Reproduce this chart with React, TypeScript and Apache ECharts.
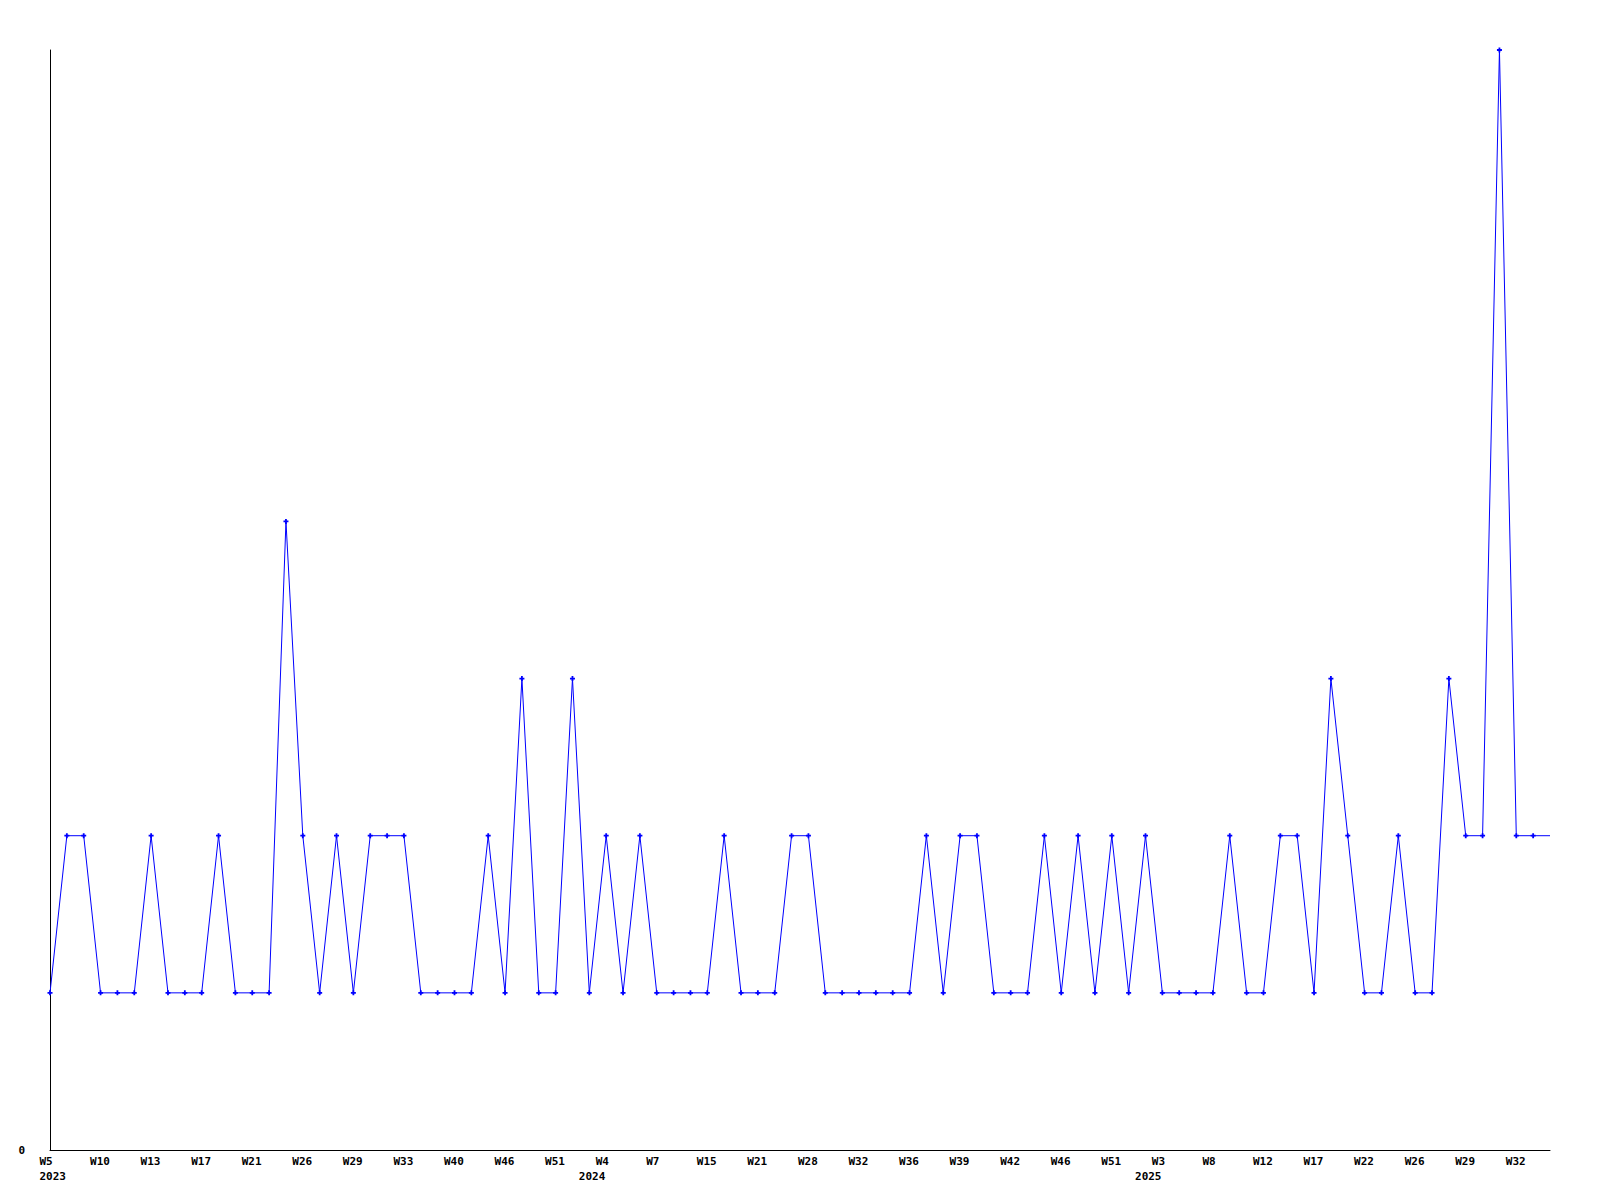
import React, { useEffect, useRef } from "react";
import * as echarts from "echarts";

// Tick labels shown under every third point
const weekTicks = [
  "W5", "W10", "W13", "W17", "W21", "W26", "W29", "W33", "W40", "W46",
  "W51", "W4", "W7", "W15", "W21", "W28", "W32", "W36", "W39", "W42",
  "W46", "W51", "W3", "W8", "W12", "W17", "W22", "W26", "W29", "W32",
];

// Year labels: [point index, year]
const yearTicks: [number, string][] = [
  [0, "2023"],
  [32, "2024"],
  [65, "2025"],
];

// Series values, one per point
const values = [
  1, 2, 2, 1, 1, 1, 2, 1, 1, 1,
  2, 1, 1, 1, 4, 2, 1, 2, 1, 2,
  2, 2, 1, 1, 1, 1, 2, 1, 3, 1,
  1, 3, 1, 2, 1, 2, 1, 1, 1, 1,
  2, 1, 1, 1, 2, 2, 1, 1, 1, 1,
  1, 1, 2, 1, 2, 2, 1, 1, 1, 2,
  1, 2, 1, 2, 1, 2, 1, 1, 1, 1,
  2, 1, 1, 2, 2, 1, 3, 2, 1, 1,
  2, 1, 1, 3, 2, 2, 7, 2, 2, 2,
];

const TICK_STEP = 3;

export default function App() {
  const ref = useRef<HTMLDivElement>(null);

  useEffect(() => {
    if (!ref.current) return;
    const chart = echarts.init(ref.current, undefined, { renderer: "svg" });

    const weekCats = values.map((_, i) =>
      i % TICK_STEP === 0 ? weekTicks[i / TICK_STEP] ?? "" : ""
    );
    const yearCats = values.map(() => "");
    yearTicks.forEach(([i, y]) => (yearCats[i] = y));

    const font = {
      fontFamily: "DejaVu Sans Mono",
      fontWeight: "bold" as const,
      fontSize: 11,
      color: "#000",
    };
    const rich = { w: { ...font, width: 21, align: "left" as const } };

    const plus =
      "path://M1.6,0L3.4,0L3.4,1.6L5,1.6L5,3.4L3.4,3.4L3.4,5L1.6,5L1.6,3.4L0,3.4L0,1.6L1.6,1.6Z";

    chart.setOption({
      animation: false,
      backgroundColor: "#fff",
      grid: { left: 50, right: 50, top: 50, bottom: 50, containLabel: false },
      xAxis: [
        {
          type: "category",
          data: weekCats,
          boundaryGap: false,
          position: "bottom",
          axisLine: { show: true, lineStyle: { color: "#000", width: 1 } },
          axisTick: { show: false },
          splitLine: { show: false },
          axisLabel: {
            interval: 0,
            margin: 6,
            align: "center",
            ...font,
            formatter: (v: string) => (v ? `{w|${v}}` : ""),
            rich,
          },
        },
        {
          type: "category",
          data: yearCats,
          boundaryGap: false,
          position: "bottom",
          offset: 15,
          axisLine: { show: false },
          axisTick: { show: false },
          splitLine: { show: false },
          axisLabel: {
            interval: 0,
            margin: 6,
            align: "center",
            ...font,
            formatter: (v: string) => (v ? `{w|${v}}` : ""),
            rich: { w: { ...font, width: 21, align: "left" as const } },
          },
        },
      ],
      yAxis: {
        type: "value",
        min: 0,
        max: 7,
        interval: 1,
        axisLine: { show: true, lineStyle: { color: "#000", width: 1 } },
        axisTick: { show: false },
        splitLine: { show: false },
        axisLabel: {
          ...font,
          margin: 25,
          formatter: (v: number) => (v === 0 ? "0" : ""),
        },
      },
      series: [
        {
          type: "line",
          xAxisIndex: 0,
          data: values.map((v, i) =>
            i === values.length - 1 ? { value: v, symbol: "none" } : v
          ),
          symbol: plus,
          symbolSize: 5,
          showAllSymbol: true,
          lineStyle: { color: "#0000ff", width: 1 },
          itemStyle: { color: "#0000ff" },
          emphasis: { disabled: true },
        },
      ],
    });

    return () => chart.dispose();
  }, []);

  return (
    <div
      ref={ref}
      style={{ position: "fixed", left: 0, top: 0, width: 1600, height: 1200 }}
    />
  );
}
